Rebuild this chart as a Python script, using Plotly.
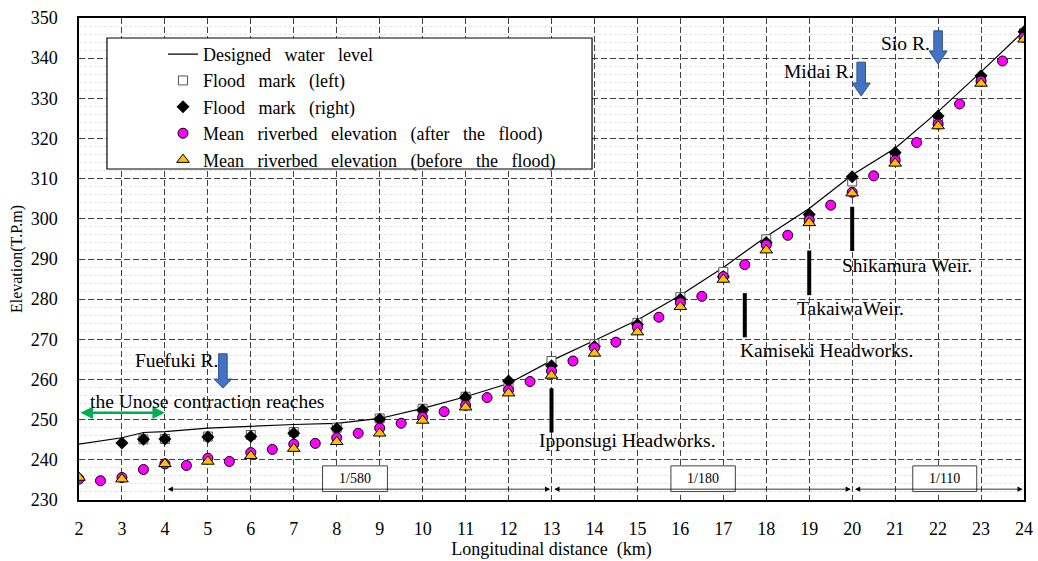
import plotly.graph_objects as go

# ---------------- data ----------------
km_line = [2, 3, 3.5, 4, 5, 6, 7, 8, 9, 10, 11, 12, 13, 14, 15, 16, 17, 18, 19, 20, 21, 22, 23, 24]
designed_wl = [243.9, 245.5, 246.8, 247.0, 247.9, 248.4, 248.8, 249.1, 250.3, 252.8, 255.7, 259.0,
               264.7, 269.7, 274.8, 281.0, 287.9, 295.6, 302.6, 310.9, 317.6, 326.7, 336.6, 346.8]

km_left = [3.5, 4, 5, 6, 7, 8, 9, 10, 11, 12, 13, 14, 15, 16, 17, 18, 19, 20, 21, 22, 23, 24]
flood_left = [245.1, 245.2, 245.8, 246.2, 246.9, 248.0, 250.3, 252.7, 255.7, 258.8, 264.6,
              268.8, 274.1, 280.5, 286.8, 294.9, 300.0, 309.3, 315.5, 323.9, 334.6, 346.2]

km_right = [3, 3.5, 4, 5, 6, 7, 8, 9, 10, 11, 12, 13, 14, 15, 16, 17, 18, 19, 20, 21, 22, 23, 24]
flood_right = [244.2, 245.1, 245.2, 245.7, 245.8, 246.6, 247.8, 250.1, 252.4, 255.6, 259.6, 263.4,
               268.2, 273.7, 280.0, 285.6, 294.1, 301.1, 310.5, 316.5, 325.6, 335.6, 346.6]

km_after = [2, 2.5, 3, 3.5, 4, 4.5, 5, 5.5, 6, 6.5, 7, 7.5, 8, 8.5, 9, 9.5, 10, 10.5, 11, 11.5,
            12, 12.5, 13, 13.5, 14, 14.5, 15, 15.5, 16, 16.5, 17, 17.5, 18, 18.5, 19, 19.5,
            20, 20.5, 21, 21.5, 22, 22.5, 23, 23.5, 24]
bed_after = [235.2, 234.8, 235.6, 237.6, 239.0, 238.6, 240.4, 239.6, 241.8, 242.6, 243.9, 244.1,
             245.5, 246.6, 247.9, 249.1, 250.6, 252.0, 253.6, 255.5, 257.4, 259.5, 262.1, 264.6,
             267.9, 269.3, 273.0, 275.5, 279.1, 280.7, 285.6, 288.6, 293.5, 295.9, 299.7, 303.4,
             306.6, 310.7, 314.5, 319.0, 323.6, 328.6, 334.3, 339.3, 345.2]

km_before = [2, 3, 4, 5, 6, 7, 8, 9, 10, 11, 12, 13, 14, 15, 16, 17, 18, 19, 20, 21, 22, 23, 24]
bed_before = [235.6, 235.2, 239.0, 239.6, 241.0, 242.8, 244.5, 246.6, 249.8, 253.1, 256.6, 261.0,
              266.5, 271.8, 278.1, 284.9, 292.2, 299.0, 306.4, 313.8, 323.1, 333.7, 344.7]

x_ticks = list(range(2, 25))
y_ticks = list(range(230, 351, 10))

series_names = ["Designed water level", "Flood mark (left)", "Flood mark (right)",
                "Mean riverbed elevation (after the flood)", "Mean riverbed elevation (before the flood)"]

# slope sections: (start km, end km, label, box x0, box x1)
slope_sections = [(4, 13, "1/580", 7.67, 9.18), (13, 20, "1/180", 15.78, 17.28), (20, 24, "1/110", 21.41, 22.9)]
# structures: (km, bottom, top, label, label x, label y)
structures = [(13, 246.8, 257.8, "Ipponsugi Headworks.", 14.78, 244.9),
              (17.5, 270.5, 281.5, "Kamiseki Headworks.", 19.4, 267.1),
              (19, 281.0, 292.1, "TakaiwaWeir.", 19.97, 277.6),
              (20, 292.0, 303.0, "Shikamura Weir.", 21.28, 288.5)]
# tributaries: (arrow km, top, head start, tip, label, label x, label y)
tributaries = [(5.35, 266.4, 260.1, 257.9, "Fuefuki R.", 4.28, 264.7),
               (20.21, 339.0, 333.8, 330.6, "Midai R.", 19.21, 336.6),
               (22.0, 346.8, 341.8, 338.5, "Sio R.", 21.23, 343.7)]

FONT = "Liberation Serif"
WIDE = "\u2002 "


def wide(s):
    return s.replace(" ", WIDE)


fig = go.Figure()
fig.add_trace(go.Scatter(x=km_line, y=designed_wl, mode="lines", name=wide(series_names[0]),
                         line=dict(color="black", width=1.2)))
fig.add_trace(go.Scatter(x=km_left, y=flood_left, mode="markers", name=wide(series_names[1]),
                         marker=dict(symbol="square", size=9, color="white",
                                     line=dict(color="#555555", width=1))))
fig.add_trace(go.Scatter(x=km_right, y=flood_right, mode="markers", name=wide(series_names[2]),
                         marker=dict(symbol="diamond", size=10, color="black",
                                     line=dict(color="black", width=0))))
fig.add_trace(go.Scatter(x=km_after, y=bed_after, mode="markers", name=wide(series_names[3]),
                         marker=dict(symbol="circle", size=10, color="#FF00FF",
                                     line=dict(color="black", width=1))))
fig.add_trace(go.Scatter(x=km_before, y=bed_before, mode="markers", name=wide(series_names[4]),
                         marker=dict(symbol="triangle-up", size=11, color="#FFC000",
                                     line=dict(color="black", width=1))))

shapes = []
annotations = []

# legend frame
shapes.append(dict(type="rect", xref="paper", yref="paper", x0=0.0296, x1=0.5429, y0=0.6867, y1=0.9585,
                   fillcolor="white", line=dict(color="black", width=1.2), layer="above"))

# slope arrows and boxes
for s, e, lab, bx0, bx1 in slope_sections:
    annotations.append(dict(x=e - 0.03, y=232.7, ax=s + 0.03, ay=232.7, xref="x", yref="y", axref="x", ayref="y",
                            text="", showarrow=True, arrowhead=2, arrowside="end+start", arrowsize=1.3,
                            arrowwidth=0.8, arrowcolor="black"))
    shapes.append(dict(type="rect", xref="x", yref="y", x0=bx0, x1=bx1, y0=232.1, y1=238.5,
                       fillcolor="white", line=dict(color="#404040", width=1), layer="above"))
    annotations.append(dict(x=(bx0 + bx1) / 2, y=235.3, xref="x", yref="y", text=lab, showarrow=False,
                            font=dict(family=FONT, size=14, color="black")))

# structures
for k, b, t, lab, lx, ly in structures:
    shapes.append(dict(type="line", xref="x", yref="y", x0=k, x1=k, y0=b, y1=t,
                       line=dict(color="black", width=4), layer="above"))
    annotations.append(dict(x=lx, y=ly, xref="x", yref="y", text=lab, showarrow=False,
                            font=dict(family=FONT, size=19.5, color="black")))

# tributary arrows
sw, hw = 0.1, 0.21
for k, top, hs, tip, lab, lx, ly in tributaries:
    path = (f"M {k - sw},{top} L {k + sw},{top} L {k + sw},{hs} L {k + hw},{hs} "
            f"L {k},{tip} L {k - hw},{hs} L {k - sw},{hs} Z")
    annotations.append(dict(x=lx, y=ly, xref="x", yref="y", text=lab, showarrow=False,
                            font=dict(family=FONT, size=19.5, color="black")))
    shapes.append(dict(type="path", xref="x", yref="y", path=path, fillcolor="#4472C4",
                       line=dict(color="#2F528F", width=1), layer="above"))

# Unose contraction reach
annotations.append(dict(x=4.0, y=251.7, ax=2.0, ay=251.7, xref="x", yref="y", axref="x", ayref="y",
                        text="", showarrow=True, arrowhead=2, arrowside="end+start", arrowsize=1,
                        arrowwidth=2.5, arrowcolor="#00B050"))
annotations.append(dict(x=4.97, y=254.5, xref="x", yref="y", text="the Unose contraction reaches",
                        showarrow=False, font=dict(family=FONT, size=19.5, color="black")))

fig.update_layout(
    width=1038, height=561,
    margin=dict(l=79, r=14, t=18, b=61, autoexpand=False),
    paper_bgcolor="white", plot_bgcolor="white",
    font=dict(family=FONT, size=18, color="black"),
    showlegend=True,
    legend=dict(x=0.0889, y=0.963, xanchor="left", yanchor="top", bgcolor="rgba(0,0,0,0)",
                borderwidth=0, font=dict(family=FONT, size=18, color="black"),
                tracegroupgap=0),
    shapes=shapes, annotations=annotations,
)
fig.update_xaxes(range=[2, 24], tickvals=x_ticks, ticktext=[str(v) for v in x_ticks],
                 showgrid=True, gridcolor="#404040", griddash="6px,3px", gridwidth=1,
                 showline=True, linecolor="black", linewidth=1.5, mirror=True, ticks="",
                 zeroline=False, ticklabelstandoff=12, automargin=False,
                 title=dict(text="Longitudinal distance\u2002(km)", font=dict(family=FONT, size=18), standoff=4),
                 tickfont=dict(family=FONT, size=18))
fig.update_yaxes(range=[230, 350], tickvals=y_ticks, ticktext=[str(v) for v in y_ticks],
                 showgrid=True, gridcolor="#404040", griddash="6px,3px", gridwidth=1,
                 minor=dict(dtick=2, showgrid=True, gridcolor="#e4e4e4", griddash="3px,2px", gridwidth=1),
                 showline=True, linecolor="black", linewidth=1.5, mirror=True, ticks="",
                 zeroline=False, ticklabelstandoff=16, automargin=False,
                 title=dict(text="Elevation(T.P.m)", font=dict(family=FONT, size=16), standoff=4),
                 tickfont=dict(family=FONT, size=18))

fig.write_html("out.html")
